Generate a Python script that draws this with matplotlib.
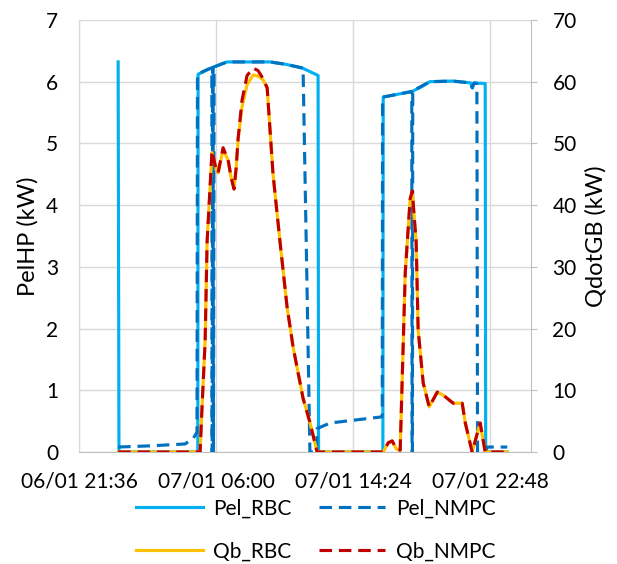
import matplotlib.pyplot as plt

plt.rcParams['font.family'] = ['Lato', 'DejaVu Sans']

# hours of 07/01 (negative = previous day)
x_ticks = [-2.4, 6.0, 14.4, 22.8]
x_tick_labels = ['06/01 21:36', '07/01 06:00', '07/01 14:24', '07/01 22:48']

pel_rbc_t = [0.0, 0.05, 4.88, 4.90, 5.5, 6.67, 9.31, 10.3, 11.3, 12.25, 12.28,
             16.22, 16.24, 17.0, 18.0, 18.6, 19.1, 20.5, 21.6, 21.7, 21.8, 22.49, 22.52, 23.84]
pel_rbc = [6.32, 0.0, 0.0, 6.12, 6.2, 6.32, 6.32, 6.28, 6.22, 6.10, 0.0,
           0.0, 5.75, 5.79, 5.84, 5.92, 6.0, 6.01, 5.98, 5.90, 5.98, 5.97, 0.0, 0.0]

pel_nmpc_t = [0.0, 2.0, 4.1, 4.6, 4.83, 4.86, 5.5, 5.74, 5.76, 5.80, 5.84, 5.88,
              6.67, 9.31, 10.3, 11.33, 11.55, 11.75, 12.15, 12.19, 13.0, 16.18,
              16.20, 17.0, 17.99, 18.01, 18.03, 18.05, 19.1, 20.5, 21.6, 21.7, 21.8,
              21.98, 22.02, 22.55, 22.60, 23.84]
pel_nmpc = [0.08, 0.1, 0.13, 0.22, 0.32, 6.12, 6.2, 6.22, 0.0, 6.23, 0.0, 6.24,
            6.32, 6.32, 6.28, 6.22, 3.0, 0.0, 0.0, 0.38, 0.47, 0.57,
            5.75, 5.79, 5.84, 0.0, 0.0, 5.85, 6.0, 6.01, 5.98, 5.90, 5.98,
            5.97, 0.0, 0.0, 0.08, 0.08]

qb_t = [0.0, 5.02, 5.14, 5.33, 5.45, 5.75, 5.94, 6.12, 6.43, 6.74, 6.92, 7.10,
        7.23, 7.35, 7.59, 7.90, 8.27, 8.57, 8.88, 9.13, 9.49, 9.92, 10.35, 10.72,
        11.33, 11.76, 12.19, 16.24, 16.55, 16.79, 17.04, 17.28, 17.59, 17.89,
        18.02, 18.26, 18.38, 18.69, 19.06, 19.55, 19.92, 20.53, 21.08, 21.27,
        21.69, 22.18, 22.49, 23.84]
qb_rbc = [0.0, 0.0, 7.3, 18.0, 34.0, 48.5, 46.5, 45.2, 49.0, 47.3, 44.5, 42.6,
          46.0, 50.6, 55.9, 59.5, 61.1, 60.9, 60.3, 59.0, 45.0, 34.0, 23.5, 17.0,
          8.7, 4.7, 0.0, 0.0, 1.5, 1.8, 0.5, 0.3, 29.0, 40.8,
          42.0, 34.0, 19.8, 11.2, 7.3, 9.7, 9.2, 7.9, 7.9, 4.7,
          0.0, 4.7, 0.0, 0.0]
qb_nmpc = [0.0, 0.0, 7.3, 18.0, 34.0, 48.8, 46.5, 45.2, 49.3, 47.3, 44.5, 42.6,
           46.0, 50.8, 57.0, 61.0, 62.2, 61.8, 60.5, 59.0, 45.0, 34.0, 23.5, 17.0,
           8.7, 4.7, 0.0, 0.0, 1.5, 1.8, 0.5, 0.3, 29.0, 41.0,
           42.3, 34.0, 19.8, 11.2, 7.3, 9.7, 9.2, 7.9, 7.9, 4.7,
           0.0, 4.7, 0.0, 0.0]

grid_color = '#D9D9D9'
axis_color = '#BFBFBF'
lw = 2.25
dash = (4, 2.2)

fig = plt.figure(figsize=(6.17, 5.64), dpi=100)
ax = fig.add_axes([0.128, 0.1986, 0.733, 0.766])
ax2 = ax.twinx()

l1, = ax.plot(pel_rbc_t, pel_rbc, color='#00B0F0', lw=lw, label='Pel_RBC')
l2, = ax.plot(pel_nmpc_t, pel_nmpc, color='#0070C0', lw=lw, dashes=dash, label='Pel_NMPC')
l3, = ax2.plot(qb_t, qb_rbc, color='#FFC000', lw=lw, label='Qb_RBC')
l4, = ax2.plot(qb_t, qb_nmpc, color='#C00000', lw=lw, dashes=dash, label='Qb_NMPC')

ax.set_xlim(-2.4, 25.31)
ax.set_ylim(0, 7)
ax2.set_ylim(0, 70)
ax.set_xticks(x_ticks)
ax.set_xticklabels(x_tick_labels)
ax.set_yticks(range(0, 8))
ax2.set_yticks(range(0, 80, 10))

ax.grid(True, color=grid_color, lw=1)
ax.set_axisbelow(True)

ax.spines['top'].set_visible(False)
ax2.spines['top'].set_visible(False)
ax.spines['left'].set_color(grid_color)
ax2.spines['left'].set_visible(False)
ax.spines['bottom'].set_color(axis_color)
ax2.spines['bottom'].set_visible(False)
ax.spines['right'].set_visible(False)
ax2.spines['right'].set_color(axis_color)

ax.tick_params(axis='both', length=0, labelsize=15, colors='black')
ax.tick_params(axis='y', pad=15)
ax.tick_params(axis='x', pad=14)
ax2.tick_params(axis='y', direction='out', length=4.3, width=0.8, color=axis_color,
                labelsize=15, pad=11)

ax.set_ylabel('PelHP (kW)', fontsize=17, labelpad=5)
ax2.set_ylabel('QdotGB (kW)', fontsize=17, labelpad=6)

fig.legend([l1, l3, l2, l4], ['Pel_RBC', 'Qb_RBC', 'Pel_NMPC', 'Qb_NMPC'],
           ncol=2, loc='center', bbox_to_anchor=(0.512, 0.06), frameon=False,
           fontsize=15, handlelength=3.2, handletextpad=0.5, columnspacing=1.3,
           labelspacing=1.1)

fig.savefig('out.png', dpi=100)
